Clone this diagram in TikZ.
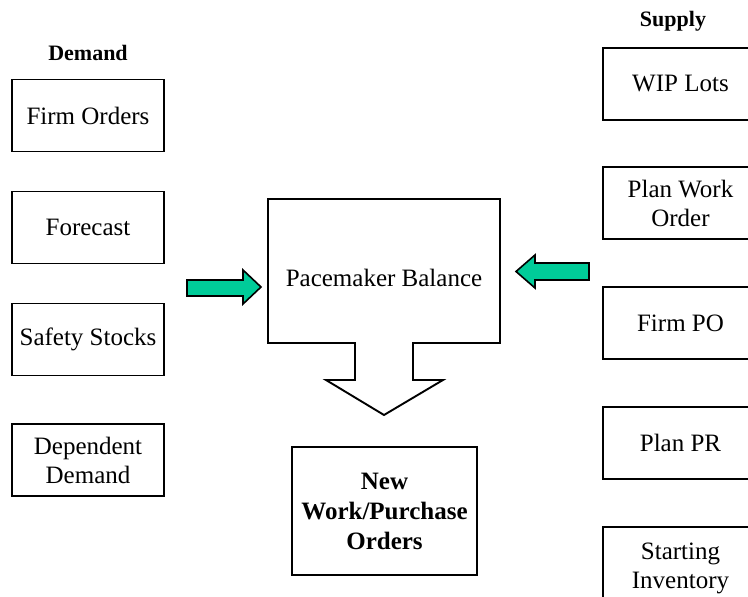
\documentclass[tikz,border=0pt]{standalone}
\usepackage{fontspec}
\setmainfont{Liberation Serif}
\definecolor{arrowgreen}{RGB}{0,204,153}
\begin{document}
\begin{tikzpicture}[x=1pt,y=-1pt,
  box/.style={draw=black,line width=1.9pt,fill=white,rectangle,inner sep=0pt,
    align=center,font=\fontsize{25}{29}\selectfont},
  leftbox/.style={box,minimum width=152pt,minimum height=72pt},
  rightbox/.style={box,minimum width=155pt,minimum height=72pt},
  colhead/.style={font=\bfseries\fontsize{22}{26}\selectfont,inner sep=0pt},
  blockarrow/.style={draw=black,line width=1.6pt,fill=arrowgreen,line join=miter},
  bigshape/.style={draw=black,line width=1.9pt,fill=white,line join=miter}]
\useasboundingbox (0,0) rectangle (748,597);
\clip (0,0) rectangle (748,597);

% demand column
\node[colhead] (demand) at (88,53) {Demand};
\node[leftbox] (firm)   at (88,115.5) {Firm Orders};
\node[leftbox] (fcst)   at (88,227.5) {Forecast};
\node[leftbox] (safety) at (88,339.5) {Safety Stocks};
\node[leftbox] (dep)    at (88,460) {Dependent\\Demand};

% supply column (runs off the right edge)
\node[colhead] (supply) at (673,21) {Supply};
\node[rightbox] (wip)   at (680.5,84)  {WIP Lots};
\node[rightbox] (pwo)   at (680.5,203) {Plan Work\\Order};
\node[rightbox] (fpo)   at (680.5,323) {Firm PO};
\node[rightbox] (ppr)   at (680.5,443) {Plan PR};
\node[rightbox,minimum height=82pt] (inv) at (680.5,568) {Starting\\Inventory};

% balance box with its downward arrow
\draw[bigshape] (268,199) -- (500,199) -- (500,343) -- (413,343) -- (413,380)
  -- (443,380) -- (384,415) -- (326,380) -- (355,380) -- (355,343) -- (268,343) -- cycle;
\node[font=\fontsize{25}{29}\selectfont,inner sep=0pt] (pace) at (384,278) {Pacemaker Balance};

% result box
\node[box,minimum width=185pt,minimum height=128pt,font=\bfseries\fontsize{25}{30}\selectfont]
  (neworders) at (384.5,511) {New\\Work/Purchase\\Orders};

% inflow arrows
\draw[blockarrow] (187,280) -- (243,280) -- (243,270) -- (261,287) -- (243,304)
  -- (243,296) -- (187,296) -- cycle;
\draw[blockarrow] (589,263) -- (535,263) -- (535,255) -- (516,271.5) -- (535,288)
  -- (535,280) -- (589,280) -- cycle;
\end{tikzpicture}
\end{document}
